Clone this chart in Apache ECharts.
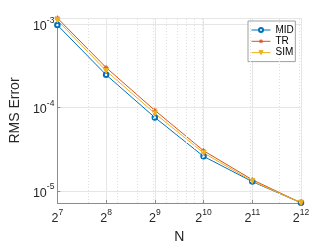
<!DOCTYPE html>
<html><head><meta charset="utf-8">
<script src="https://cdn.jsdelivr.net/npm/echarts@6/dist/echarts.min.js"></script>
<style>html,body{margin:0;padding:0;background:#fff}#c{width:332px;height:249px}</style>
</head><body><div id="c"></div>
<script>
const N = [128, 256, 512, 1024, 2048, 4096];
const MID = [9.8e-4, 2.48e-4, 7.64e-5, 2.61e-5, 1.30e-5, 7.24e-6];
const TR  = [1.19e-3, 3.03e-4, 9.3e-5, 3.05e-5, 1.37e-5, 7.24e-6];
const SIM = [1.12e-3, 2.77e-4, 8.55e-5, 2.87e-5, 1.32e-5, 7.24e-6];
const minorX = [200,300,400,500,600,700,800,900,1000,2000,3000,4000];
const minorY = [8e-6,9e-6,2e-5,3e-5,4e-5,5e-5,6e-5,7e-5,8e-5,9e-5,2e-4,3e-4,4e-4,5e-4,6e-4,7e-4,8e-4,9e-4];
const yMin = 7.2e-6, yMax = 1.19e-3;
const FONT = 'Liberation Sans, Arial, Helvetica, sans-serif';
const colors = ['#0072BD', '#D95319', '#EDB120'];
const asterisk = 'path://M5,0L5,10M0,5L10,5M1.5,1.5L8.5,8.5M8.5,1.5L1.5,8.5';

const chart = echarts.init(document.getElementById('c'), null, {renderer: 'canvas'});
const pairs = a => N.map((n, i) => [n, a[i]]);
const supRich = {
  b: {fontSize: 12.5, color: '#262626', fontFamily: FONT, lineHeight: 17, verticalAlign: 'bottom'},
  s: {fontSize: 8.5, color: '#262626', fontFamily: FONT, lineHeight: 17, verticalAlign: 'top'}
};
chart.setOption({
  animation: false,
  textStyle: {fontFamily: FONT},
  grid: {left: 43, right: 31, top: 18, bottom: 35},
  legend: {
    orient: 'vertical', left: 248, top: 21,
    itemWidth: 19, itemHeight: 5, itemGap: 0.3,
    padding: [3.5, 1.5, 3.5, 3],
    borderColor: '#a0a0a0', borderWidth: 1, backgroundColor: '#fff',
    textStyle: {fontSize: 10, lineHeight: 11, color: '#000', fontFamily: FONT},
    itemStyle: {borderWidth: 1},
    lineStyle: {width: 1},
    data: ['MID', 'TR', 'SIM']
  },
  xAxis: {
    type: 'log', logBase: 2, min: 128, max: 4096, interval: 1,
    name: 'N', nameLocation: 'middle', nameGap: 27,
    nameTextStyle: {fontSize: 14, color: '#262626', fontFamily: FONT},
    axisLine: {lineStyle: {color: '#8c8c8c', width: 1}},
    axisTick: {inside: true, length: 3, lineStyle: {color: '#8c8c8c'}},
    splitLine: {show: true, lineStyle: {color: '#e6e6e6', width: 1}},
    axisLabel: {
      margin: 5, rich: supRich,
      formatter: v => '{b|2}{s|' + Math.round(Math.log2(v)) + '}'
    }
  },
  yAxis: {
    type: 'log', logBase: 10, min: yMin, max: yMax,
    name: 'RMS Error', nameLocation: 'middle', nameGap: 32,
    nameTextStyle: {fontSize: 14, color: '#262626', fontFamily: FONT},
    axisLine: {show: true, lineStyle: {color: '#8c8c8c', width: 1}},
    axisTick: {show: true, inside: true, length: 3, lineStyle: {color: '#8c8c8c'}},
    splitLine: {show: true, lineStyle: {color: '#e6e6e6', width: 1}},
    axisLabel: {
      margin: 3, rich: supRich, showMinLabel: false, showMaxLabel: false,
      formatter: v => {
        const e = Math.log10(v);
        if (Math.abs(e - Math.round(e)) > 1e-6) return '';
        return '{b|10}{s|' + Math.round(e) + '}';
      }
    }
  },
  series: [
    {
      name: 'grid', type: 'line', data: [], silent: true, legendHoverLink: false,
      markLine: {
        silent: true, symbol: 'none', label: {show: false}, animation: false,
        lineStyle: {color: '#e0e0e0', type: [1, 2], width: 1},
        data: minorX.map(v => ({xAxis: v})).concat(minorY.map(v => ({yAxis: v})))
      }
    },
    {name: 'MID', type: 'line', data: pairs(MID), symbol: 'emptyCircle', symbolSize: 4.5,
     color: colors[0], lineStyle: {width: 1, color: colors[0]}, itemStyle: {color: colors[0], borderColor: colors[0], borderWidth: 1}},
    {name: 'TR', type: 'line', data: pairs(TR), symbol: asterisk, symbolSize: 5,
     color: colors[1], lineStyle: {width: 1, color: colors[1]}, itemStyle: {color: colors[1], borderWidth: 1, borderColor: colors[1]}},
    {name: 'SIM', type: 'line', data: pairs(SIM), symbol: 'triangle', symbolRotate: 180, symbolSize: 5,
     color: colors[2], lineStyle: {width: 1, color: colors[2]}, itemStyle: {color: colors[2], borderColor: colors[2], borderWidth: 1}}
  ]
});
</script></body></html>
